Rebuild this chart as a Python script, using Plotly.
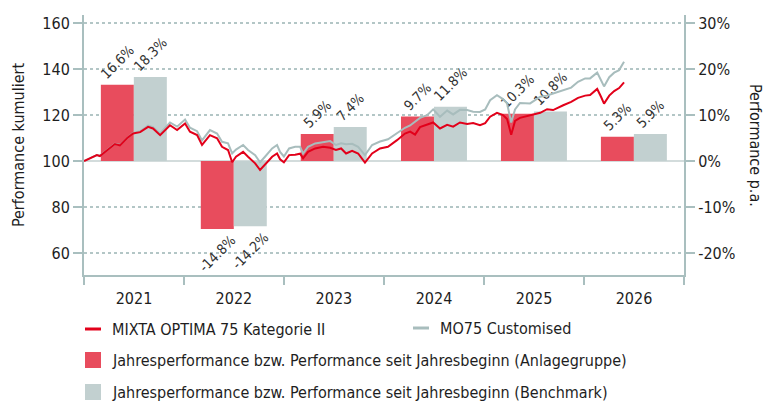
import plotly.graph_objects as go

# ---------------- data ----------------
dates = [
    "2021-01-01", "2021-01-23", "2021-02-17", "2021-02-28", "2021-03-26", "2021-04-24",
    "2021-05-12", "2021-06-07", "2021-06-29", "2021-07-25", "2021-08-23", "2021-09-10",
    "2021-10-06", "2021-11-11", "2021-12-07", "2022-01-05", "2022-01-23", "2022-02-18",
    "2022-03-08", "2022-04-06", "2022-05-02", "2022-05-20", "2022-06-11", "2022-06-26",
    "2022-07-10", "2022-08-05", "2022-08-23", "2022-09-18", "2022-10-06", "2022-10-24",
    "2022-11-19", "2022-12-07", "2022-12-18", "2023-01-01", "2023-01-20", "2023-02-11",
    "2023-03-01", "2023-03-12", "2023-03-30", "2023-04-25", "2023-05-24", "2023-06-19",
    "2023-07-10", "2023-07-29", "2023-08-16", "2023-09-07", "2023-09-29", "2023-10-24",
    "2023-11-19", "2023-12-18", "2024-01-16", "2024-02-18", "2024-03-18", "2024-04-06",
    "2024-04-24", "2024-05-12", "2024-06-07", "2024-06-29", "2024-07-24", "2024-08-19",
    "2024-09-10", "2024-10-05", "2024-10-31", "2024-11-22", "2024-12-17", "2025-01-05",
    "2025-01-23", "2025-02-17", "2025-03-11", "2025-03-26", "2025-04-10", "2025-04-24",
    "2025-05-12", "2025-06-18", "2025-07-25", "2025-08-19", "2025-09-10", "2025-10-17",
    "2025-11-15", "2025-12-10", "2026-01-05", "2026-01-23", "2026-02-18", "2026-03-04",
    "2026-03-15", "2026-04-03", "2026-04-21", "2026-05-09", "2026-05-27",
]
mixta_optima = [
    100.0, 101.2, 102.6, 102.2, 104.8, 107.4,
    106.8, 109.9, 112.0, 112.6, 114.9, 114.2,
    111.3, 115.6, 113.5, 116.4, 112.8, 111.3,
    107.0, 111.3, 109.9, 106.2, 104.8, 99.5,
    101.9, 104.0, 101.9, 99.0, 96.1, 98.3,
    101.9, 103.3, 100.8, 99.5, 102.6, 102.8,
    103.2, 101.2, 104.0, 105.5, 106.2, 105.8,
    104.8, 105.5, 103.3, 104.5, 103.3, 99.3,
    103.3, 105.5, 106.2, 109.1, 112.0, 112.8,
    111.5, 114.8, 116.0, 116.8, 114.2, 115.8,
    115.0, 116.8, 116.2, 116.6, 115.6, 116.5,
    119.3, 121.0, 120.0, 118.3, 111.5, 117.5,
    118.8, 119.8, 121.0, 122.6, 122.2, 124.3,
    125.8, 127.5, 128.5, 128.8, 131.4, 128.0,
    125.0, 128.5, 130.5, 131.8, 134.3,
]
mo75_customised = [
    100.0, 101.2, 102.6, 102.3, 104.9, 107.5,
    107.0, 110.1, 112.3, 113.0, 115.4, 114.8,
    112.0, 116.8, 115.0, 118.1, 114.5, 113.0,
    109.0, 113.5, 112.0, 108.4, 107.7, 103.3,
    105.0, 107.0, 104.8, 102.6, 99.5, 101.9,
    105.5, 107.0, 104.0, 102.0, 105.5, 106.2,
    106.2, 103.3, 106.2, 107.7, 108.4, 108.7,
    107.0, 107.7, 107.3, 107.5, 106.2, 102.6,
    107.0, 108.5, 109.5, 112.0, 114.5, 115.5,
    117.0, 118.8, 120.0, 122.5, 119.3, 122.0,
    120.3, 122.3, 122.2, 121.5, 121.4, 122.5,
    126.5, 128.7, 127.0, 125.1, 116.8, 122.5,
    125.3, 125.1, 128.0, 128.5, 129.4, 131.0,
    132.0, 134.5, 136.0, 136.0, 138.5, 135.2,
    132.5, 136.5, 138.5, 139.6, 143.2,
]

bar_years = ["2021-07-02", "2022-07-02", "2023-07-02", "2024-07-02", "2025-07-02", "2026-07-02"]
perf_anlagegruppe = [16.6, -14.8, 5.9, 9.7, 10.3, 5.3]
perf_benchmark = [18.3, -14.2, 7.4, 11.8, 10.8, 5.9]

left_ticks = [60, 80, 100, 120, 140, 160]
right_ticks = [-20, -10, 0, 10, 20, 30]
right_tick_labels = ["-20%", "-10%", "0%", "10%", "20%", "30%"]

name_fund = "MIXTA OPTIMA 75 Kategorie II"
name_bm = "MO75 Customised"
name_bar_fund = "Jahresperformance bzw. Performance seit Jahresbeginn (Anlagegruppe)"
name_bar_bm = "Jahresperformance bzw. Performance seit Jahresbeginn (Benchmark)"

# ---------------- styles ----------------
FONT = "DejaVu Sans Condensed, Liberation Sans, Arial, sans-serif"
RED_LINE = "#e2001a"
RED_BAR = "#e84c5d"
GRAY_BAR = "#c2d0d0"
GRAY_LINE = "#a8bdbd"
AXIS = "#a9bfbf"
GRID = "#b3c6c6"
TXT = "#1e1e1e"

fig = go.Figure()

bar_common = dict(
    yaxis="y",
    texttemplate="%{y:.1f}%",
    textposition="outside",
    textangle=-45,
    constraintext="none",
    cliponaxis=False,
    textfont=dict(family=FONT, size=14, color="#333333"),
    showlegend=False,
)
fig.add_trace(go.Bar(x=bar_years, y=perf_anlagegruppe, name=name_bar_fund,
                     marker=dict(color=RED_BAR, line=dict(width=0)), **bar_common))
fig.add_trace(go.Bar(x=bar_years, y=perf_benchmark, name=name_bar_bm,
                     marker=dict(color=GRAY_BAR, line=dict(width=0)), **bar_common))

fig.add_trace(go.Scatter(x=dates, y=mo75_customised, mode="lines", name=name_bm,
                         yaxis="y2", line=dict(color=GRAY_LINE, width=2), showlegend=False))
fig.add_trace(go.Scatter(x=dates, y=mixta_optima, mode="lines", name=name_fund,
                         yaxis="y2", line=dict(color=RED_LINE, width=2), showlegend=False))

L0, L1 = 50.4, 163.6

fig.update_layout(
    width=765, height=401,
    margin=dict(l=84, r=81, t=15, b=126),
    paper_bgcolor="white", plot_bgcolor="white",
    font=dict(family=FONT, size=16, color=TXT),
    barmode="group", bargap=0.34, bargroupgap=0,
    xaxis=dict(
        type="date", range=["2021-01-01", "2027-01-01"],
        tick0="2021-01-01", dtick="M12", tickformat="%Y", ticklabelmode="period",
        ticks="outside", ticklen=8, tickwidth=2, tickcolor=AXIS,
        showline=True, linecolor=AXIS, linewidth=2, showgrid=False, zeroline=False,
        tickfont=dict(size=16, color=TXT),
    ),
    yaxis=dict(
        side="right", range=[(L0 - 100) / 2, (L1 - 100) / 2],
        tickvals=right_ticks, ticktext=right_tick_labels,
        ticks="outside", ticklen=9, tickwidth=2, tickcolor=AXIS,
        showline=True, linecolor=AXIS, linewidth=2,
        showgrid=False, zeroline=True, zerolinecolor="#d3dcdc", zerolinewidth=2,
        tickfont=dict(size=16, color=TXT),
    ),
    yaxis2=dict(
        overlaying="y", side="left", range=[L0, L1],
        tickvals=left_ticks,
        ticks="outside", ticklen=9, tickwidth=2, tickcolor=AXIS,
        showline=True, linecolor=AXIS, linewidth=2,
        showgrid=True, gridcolor=GRID, gridwidth=2, griddash="dot", zeroline=False,
        tickfont=dict(size=16, color=TXT),
        title=dict(text="Performance kumuliert", font=dict(size=16, color=TXT), standoff=14),
    ),
)

# right axis title (reads top to bottom)
fig.add_annotation(xref="paper", yref="paper", x=(756 - 84) / 600, y=0.5,
                   text="Performance p.a.", textangle=90, showarrow=False,
                   font=dict(size=16, color=TXT), xanchor="center", yanchor="middle")

# ---------------- legend (drawn manually) ----------------
def px_x(px):
    return (px - 84) / 600

def px_y(py):
    return (275 - py) / 260

legend_items = [
    ("line", RED_LINE, name_fund, 85, 329),
    ("line", GRAY_LINE, name_bm, 413, 328),
    ("box", RED_BAR, name_bar_fund, 85, 360),
    ("box", GRAY_BAR, name_bar_bm, 85, 392),
]
for kind, col, label, x0, yc in legend_items:
    if kind == "line":
        fig.add_shape(type="line", xref="paper", yref="paper",
                      x0=px_x(x0), x1=px_x(x0 + 16), y0=px_y(yc), y1=px_y(yc),
                      line=dict(color=col, width=3))
    else:
        fig.add_shape(type="rect", xref="paper", yref="paper",
                      x0=px_x(x0), x1=px_x(x0 + 16), y0=px_y(yc - 8), y1=px_y(yc + 8),
                      line=dict(width=0), fillcolor=col)
    fig.add_annotation(xref="paper", yref="paper", x=px_x(x0 + 25), y=px_y(yc),
                       text=label, showarrow=False, xanchor="left", yanchor="middle",
                       font=dict(size=16, color=TXT))

fig.write_html("out.html",
               config={"displayModeBar": False},
               post_script="document.body.style.margin='0';document.body.style.overflow='hidden';")
